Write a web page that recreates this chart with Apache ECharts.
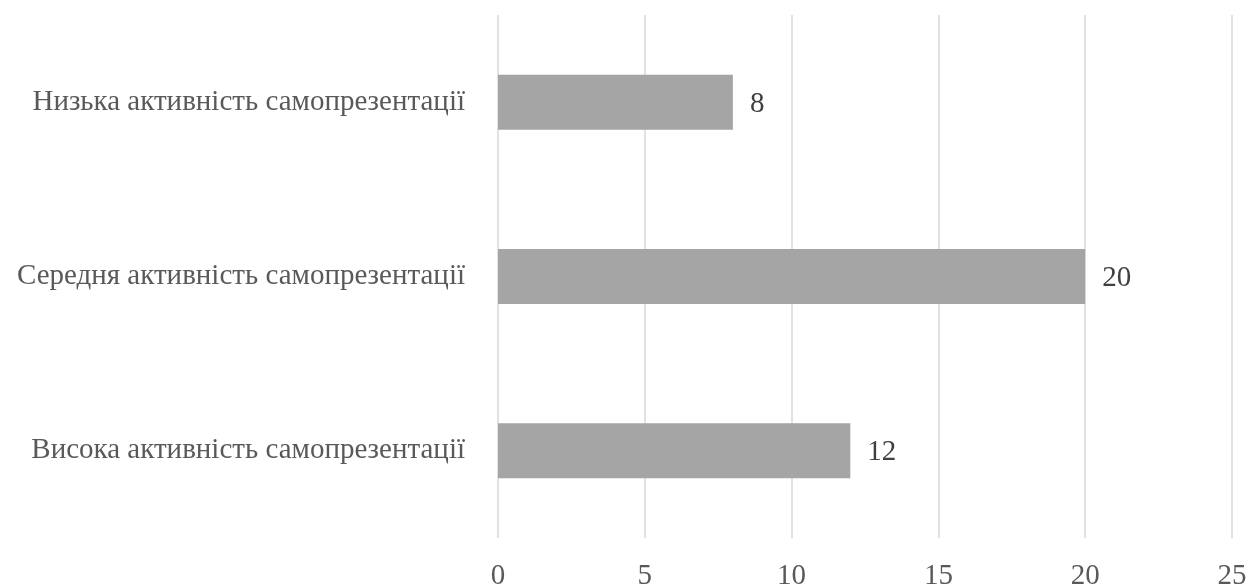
<!DOCTYPE html>
<html>
<head>
<meta charset="utf-8">
<script src="https://cdn.jsdelivr.net/npm/echarts@6/dist/echarts.min.js"></script>
<style>
  html, body { margin: 0; padding: 0; background: #fff; }
  #chart { width: 1249px; height: 584px; }
</style>
</head>
<body>
<div id="chart"></div>
<script>
// Categories listed bottom-to-top (category axis starts at the bottom)
const categories = [
  'Висока активність самопрезентації',
  'Середня активність самопрезентації',
  'Низька активність самопрезентації'
];
const values = [12, 20, 8];
const xTicks = { min: 0, max: 25, interval: 5 };

const FONT = '"Liberation Serif", "Times New Roman", serif';
const TEXT = '#595959';

const chart = echarts.init(document.getElementById('chart'));
chart.setOption({
  animation: false,
  grid: {
    left: 498, right: 17, top: 15, bottom: 46,
    containLabel: false, outerBoundsMode: 'none'
  },
  xAxis: {
    type: 'value',
    min: xTicks.min, max: xTicks.max, interval: xTicks.interval,
    axisLine: { show: false },
    axisTick: { show: false },
    splitLine: { show: true, lineStyle: { color: '#d9d9d9', width: 1.5 } },
    axisLabel: { color: TEXT, fontFamily: FONT, fontSize: 29, margin: 24 }
  },
  yAxis: {
    type: 'category',
    data: categories,
    axisLine: { show: false },
    axisTick: { show: false },
    axisLabel: {
      color: TEXT, fontFamily: FONT, fontSize: 29, margin: 33,
      padding: [4, 0, 0, 0]
    }
  },
  series: [{
    type: 'bar',
    data: values,
    barWidth: 55,
    itemStyle: { color: '#a5a5a5' },
    label: {
      show: true, position: 'right', distance: 17, offset: [0, 2],
      color: '#404040', fontFamily: FONT, fontSize: 29
    }
  }]
});
</script>
</body>
</html>
